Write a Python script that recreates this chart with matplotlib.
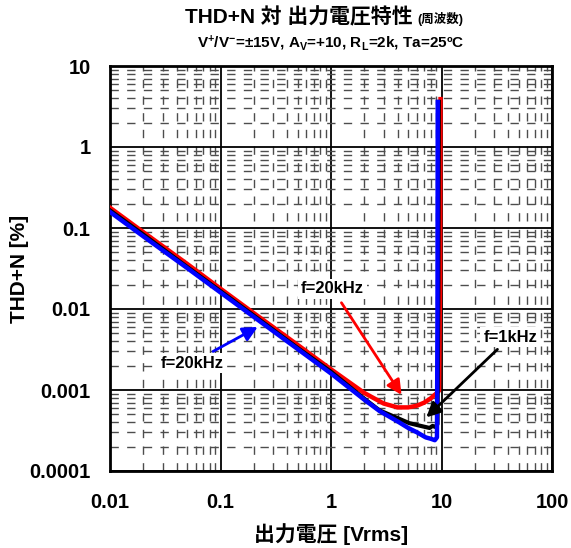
import numpy as np
import matplotlib
matplotlib.use("Agg")
from matplotlib import pyplot as plt
from matplotlib.ticker import LogLocator, NullFormatter, FixedLocator

plt.rcParams['font.family'] = ['Liberation Sans', 'Noto Sans CJK JP']
plt.rcParams['font.weight'] = 'bold'
plt.rcParams['axes.labelweight'] = 'bold'
plt.rcParams['mathtext.fontset'] = 'custom'
plt.rcParams['mathtext.rm'] = 'Liberation Sans:bold'
plt.rcParams['mathtext.default'] = 'rm'

# output voltage [Vrms] vs THD+N [%]
vout_red = [0.01, 0.02, 0.05, 0.1, 0.2, 0.5, 1, 2, 3, 4, 5, 6, 7, 8, 9, 9.5, 9.7, 9.8]
thd_red = [0.178, 0.089, 0.036, 0.0178, 0.0089, 0.0036, 0.0018, 0.00092, 0.00068,
           0.00061, 0.00061, 0.00064, 0.00070, 0.00079, 0.00091, 0.00098, 0.02, 3.9]

vout_blk = [0.01, 0.02, 0.05, 0.1, 0.2, 0.5, 1, 2, 2.75, 4, 5.1, 6.5, 7.8, 8.3, 8.8, 9.2, 9.35, 9.45]
thd_blk = [0.165, 0.083, 0.033, 0.0166, 0.0083, 0.0033, 0.00168, 0.00078, 0.00056,
           0.00045, 0.00039, 0.00036, 0.00034, 0.00036, 0.00035, 0.00038, 0.01, 3.6]

vout_blu = [0.01, 0.02, 0.05, 0.1, 0.2, 0.5, 1, 2, 2.75, 4, 5, 6, 7.2, 8, 8.7, 9.1, 9.2, 9.25]
thd_blu = [0.158, 0.079, 0.032, 0.0160, 0.0080, 0.0032, 0.00160, 0.00076, 0.00055,
           0.00041, 0.00034, 0.00030, 0.00026, 0.00025, 0.00024, 0.00026, 0.01, 3.6]

xticks = [0.01, 0.1, 1, 10, 100]
xticklabels = ['0.01', '0.1', '1', '10', '100']
yticks = [0.0001, 0.001, 0.01, 0.1, 1, 10]
yticklabels = ['0.0001', '0.001', '0.01', '0.1', '1', '10']

fig = plt.figure(figsize=(5.71, 5.48), dpi=100)
ax = fig.add_axes([110/571, 77/548, 442/571, 405/548])

ax.set_xscale('log')
ax.set_yscale('log')
ax.set_xlim(0.01, 100)
ax.set_ylim(0.0001, 10)

ax.xaxis.set_major_locator(FixedLocator(xticks))
ax.yaxis.set_major_locator(FixedLocator(yticks))
ax.set_xticklabels(xticklabels)
ax.set_yticklabels(yticklabels)
ax.xaxis.set_minor_locator(LogLocator(base=10, subs=np.arange(2, 10)))
ax.yaxis.set_minor_locator(LogLocator(base=10, subs=np.arange(2, 10)))
ax.xaxis.set_minor_formatter(NullFormatter())
ax.yaxis.set_minor_formatter(NullFormatter())
ax.tick_params(which='both', length=0)
ax.tick_params(axis='x', pad=16, labelsize=14.5)
ax.tick_params(axis='y', pad=14, labelsize=14.5)

ax.grid(which='major', color='black', lw=1.3, ls='-')
ax.grid(which='minor', color='0.3', lw=1.0, ls=(0, (6, 6)))
ax.set_axisbelow(True)
for s in ax.spines.values():
    s.set_linewidth(2)

ax.plot(vout_red, thd_red, color='#ff0000', lw=3.2, zorder=3)
ax.plot(vout_blk, thd_blk, color='black', lw=3.0, zorder=4)
ax.plot(vout_blu, thd_blu, color='#0000ff', lw=3.2, zorder=5)

box = dict(facecolor='white', edgecolor='none', pad=2)
ax.annotate('f=20kHz', xy=(4.35, 0.00087), xytext=(1.03, 0.0177),
            ha='center', va='center', fontsize=12, bbox=box, zorder=6,
            arrowprops=dict(arrowstyle='-|>', color='#ff0000', lw=2,
                            mutation_scale=22, shrinkA=3, shrinkB=0))
ax.annotate('f=20kHz', xy=(0.217, 0.0060), xytext=(0.055, 0.00215),
            ha='center', va='center', fontsize=12, bbox=box, zorder=6,
            arrowprops=dict(arrowstyle='-|>', color='#0000ff', lw=2,
                            mutation_scale=22, shrinkA=2, shrinkB=0))
ax.annotate('f=1kHz', xy=(7.3, 0.00046), xytext=(41.9, 0.0045),
            ha='center', va='center', fontsize=12, bbox=box, zorder=6,
            arrowprops=dict(arrowstyle='-|>', color='black', lw=2,
                            mutation_scale=22, shrinkA=2, shrinkB=0))

ax.set_xlabel('出力電圧 [Vrms]', fontsize=15, labelpad=8)
ax.set_ylabel('THD+N [%]', fontsize=15)
ax.yaxis.set_label_coords(-(110 - 29) / 442, 0.5)

fig.text(413/571, 1 - 17/548, 'THD+N 対 出力電圧特性', ha='right', va='center', fontsize=15)
fig.text(417/571, 1 - 19/548, '(周波数)', ha='left', va='center', fontsize=9)
fig.text(331/571, 1 - 43/548, r'V$^{+}$/V$^{-}$=±15V, A$_{V}$=+10, R$_{L}$=2k, Ta=25ºC',
         ha='center', va='center', fontsize=11)

fig.savefig('out.png', dpi=100)
